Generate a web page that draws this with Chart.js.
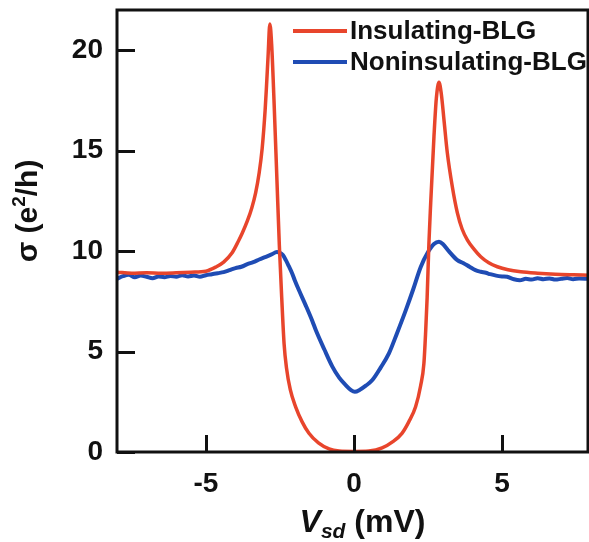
<!DOCTYPE html>
<html>
<head>
<meta charset="utf-8">
<script src="https://cdn.jsdelivr.net/npm/chart.js@4.4.0/dist/chart.umd.min.js"></script>
<style>
  html, body { margin: 0; padding: 0; background: #ffffff; }
  #wrap { width: 589px; height: 542px; }
</style>
</head>
<body>
<div id="wrap"><canvas id="c" width="589" height="542"></canvas></div>
<script>
// Source-drain bias (mV) and conductance (e^2/h) for the two bilayer samples
const vsdInsulating = [
  -8.0, -7.5, -7.0, -6.5, -6.0, -5.5, -5.0, -4.67, -4.4, -4.12, -3.9, -3.77, -3.6, -3.45,
  -3.32, -3.2, -3.1, -3.0, -2.95, -2.9, -2.84, -2.78, -2.7, -2.6, -2.52, -2.44,
  -2.36, -2.28, -2.15, -1.97, -1.75, -1.52, -1.2, -0.84, -0.5, 0.0, 0.5, 0.95, 1.3, 1.62,
  1.85, 2.08, 2.25, 2.36, 2.42, 2.47, 2.53, 2.59, 2.7, 2.78, 2.87, 2.95, 3.04, 3.15, 3.32,
  3.49, 3.65, 3.83, 4.05, 4.28, 4.55, 4.84, 5.2, 5.63, 6.2, 6.8, 7.4, 7.9
];
const sigmaInsulating = [
  8.95, 8.9, 8.92, 8.9, 8.92, 8.95, 9.0, 9.2, 9.45, 9.9, 10.5, 10.9, 11.5, 12.15,
  12.9, 13.9, 15.1, 17.0, 18.3, 19.7, 21.3, 20.3, 17.5, 13.5, 10.3, 7.7,
  5.4, 4.2, 3.1, 2.25, 1.5, 0.93, 0.45, 0.15, 0.05, 0.03, 0.05, 0.2, 0.5, 0.93,
  1.5, 2.25, 3.3, 4.4, 6.0, 7.7, 10.4, 12.4, 15.7, 17.6, 18.4, 17.8, 16.5, 14.9, 13.2,
  11.9, 11.1, 10.55, 10.1, 9.72, 9.42, 9.22, 9.07, 8.97, 8.9, 8.85, 8.82, 8.8
];

const vsdNoninsulating = [
  -8.0, -7.8, -7.6, -7.4, -7.2, -7.0, -6.8, -6.6, -6.4, -6.2, -6.0, -5.8, -5.6, -5.4,
  -5.2, -5.0, -4.8, -4.6, -4.4, -4.2, -4.0, -3.8, -3.6, -3.4, -3.2, -3.0, -2.8, -2.6,
  -2.5, -2.4, -2.3, -2.2, -2.09, -2.0, -1.86, -1.63, -1.4, -1.29, -1.0, -0.73, -0.5,
  -0.28, -0.1, 0.03, 0.2, 0.4, 0.62, 0.9, 1.18, 1.45, 1.75, 2.0, 2.25, 2.5, 2.7, 2.87,
  3.0, 3.2, 3.49, 3.7, 3.9, 4.1, 4.28, 4.45, 4.6, 4.8, 5.0, 5.17, 5.4, 5.6, 5.8, 6.0,
  6.2, 6.4, 6.6, 6.8, 7.0, 7.2, 7.4, 7.6, 7.9
];
const sigmaNoninsulating = [
  8.62, 8.75, 8.82, 8.7, 8.78, 8.72, 8.65, 8.74, 8.7, 8.76, 8.72, 8.8, 8.74, 8.78,
  8.72, 8.8, 8.85, 8.9, 8.95, 9.05, 9.15, 9.22, 9.35, 9.45, 9.58, 9.7, 9.82, 9.95,
  9.92, 9.8, 9.55, 9.25, 8.9, 8.55, 8.06, 7.3, 6.5, 6.07, 5.1, 4.25, 3.7,
  3.33, 3.08, 3.0, 3.1, 3.3, 3.58, 4.2, 4.91, 5.9, 7.06, 8.1, 9.2, 9.95, 10.35, 10.46,
  10.35, 10.0, 9.55, 9.4, 9.22, 9.05, 8.97, 8.92, 8.85, 8.78, 8.74, 8.72, 8.6, 8.55, 8.62, 8.58,
  8.65, 8.6, 8.64, 8.58, 8.62, 8.66, 8.6, 8.64, 8.62
];

const seriesLabels = ['Insulating-BLG', 'Noninsulating-BLG'];
const xTickValues = [-5, 0, 5];
const yTickValues = [0, 5, 10, 15, 20];

const RED = '#e8452c';
const BLUE = '#1f4cb4';
const INK = '#111111';
const FONT = '"Liberation Sans", Arial, Helvetica, sans-serif';

const toPoints = (xs, ys) => xs.map((x, i) => ({ x: x, y: ys[i] }));

// Box frame, inward tick marks, axis titles with sub/superscripts, and the legend
const decorations = {
  id: 'decorations',
  afterDatasetsDraw(chart) {
    const ctx = chart.ctx;
    const a = chart.chartArea;
    const xs = chart.scales.x, ys = chart.scales.y;
    ctx.save();
    ctx.strokeStyle = INK;
    ctx.lineWidth = 3;
    ctx.strokeRect(a.left, a.top, a.right - a.left, a.bottom - a.top);
    ctx.beginPath();
    xs.ticks.forEach(t => {
      const px = Math.round(xs.getPixelForValue(t.value)) + 0.5;
      ctx.moveTo(px, a.bottom);
      ctx.lineTo(px, a.bottom - 17);
    });
    ys.ticks.forEach(t => {
      const py = Math.round(ys.getPixelForValue(t.value)) + 0.5;
      ctx.moveTo(a.left, py);
      ctx.lineTo(a.left + 18, py);
    });
    ctx.stroke();

    // legend in the upper right of the plot
    ctx.textBaseline = 'alphabetic';
    ctx.textAlign = 'left';
    ctx.font = 'bold 26px ' + FONT;
    const rows = [{ y: 31, base: 39 }, { y: 62, base: 70 }];
    chart.data.datasets.forEach((ds, i) => {
      const r = rows[i];
      ctx.strokeStyle = ds.borderColor;
      ctx.lineWidth = 4;
      ctx.beginPath();
      ctx.moveTo(a.left + 176, r.y);
      ctx.lineTo(a.left + 230, r.y);
      ctx.stroke();
      ctx.fillStyle = INK;
      ctx.fillText(ds.label, a.left + 233, r.base);
    });

    // x-axis title: V_sd (mV)
    ctx.fillStyle = INK;
    const big = 'bold 32px ' + FONT;
    const bigIt = 'italic bold 32px ' + FONT;
    const subIt = 'italic bold 21px ' + FONT;
    ctx.font = bigIt; const wV = ctx.measureText('V').width;
    ctx.font = subIt; const wSd = ctx.measureText('sd').width;
    ctx.font = big; const wRest = ctx.measureText(' (mV)').width;
    const total = wV + wSd + wRest;
    let x0 = (a.left + a.right) / 2 + 10 - total / 2;
    const xb = 532;
    ctx.font = bigIt; ctx.fillText('V', x0, xb); x0 += wV;
    ctx.font = subIt; ctx.fillText('sd', x0, xb + 6); x0 += wSd;
    ctx.font = big; ctx.fillText(' (mV)', x0, xb);

    // y-axis title: sigma (e^2/h), rotated
    const yBig = 'bold 30px ' + FONT;
    ctx.translate(37, 211);
    ctx.rotate(-Math.PI / 2);
    const supF = 'bold 19px ' + FONT;
    ctx.font = yBig; const w1 = ctx.measureText('σ (e').width;
    ctx.font = supF; const w2 = ctx.measureText('2').width;
    ctx.font = yBig; const w3 = ctx.measureText('/h)').width;
    let s = -(w1 + w2 + w3) / 2;
    ctx.font = yBig; ctx.fillText('σ (e', s, 0); s += w1;
    ctx.font = supF; ctx.fillText('2', s, -12); s += w2;
    ctx.font = yBig; ctx.fillText('/h)', s, 0);
    ctx.restore();
  }
};

new Chart(document.getElementById('c'), {
  type: 'line',
  data: {
    datasets: [
      {
        label: seriesLabels[0],
        data: toPoints(vsdInsulating, sigmaInsulating),
        borderColor: RED,
        borderWidth: 3.5,
        pointRadius: 0,
        cubicInterpolationMode: 'monotone',
        fill: false
      },
      {
        label: seriesLabels[1],
        data: toPoints(vsdNoninsulating, sigmaNoninsulating),
        borderColor: BLUE,
        borderWidth: 4,
        pointRadius: 0,
        cubicInterpolationMode: 'monotone',
        fill: false
      }
    ]
  },
  options: {
    responsive: false,
    animation: false,
    events: [],
    layout: { padding: { top: 10, right: 1, left: 0, bottom: 0 } },
    plugins: { legend: { display: false }, tooltip: { enabled: false }, title: { display: false } },
    scales: {
      x: {
        type: 'linear',
        min: -8,
        max: 7.9,
        afterBuildTicks: s => { s.ticks = xTickValues.map(v => ({ value: v })); },
        afterFit: s => { s.height = 90; s.paddingLeft = 0; s.paddingRight = 0; },
        grid: { display: false, drawTicks: false },
        border: { display: false },
        ticks: { color: INK, padding: 15, font: { family: FONT, size: 28, weight: 'bold' }, maxRotation: 0 }
      },
      y: {
        type: 'linear',
        min: 0,
        max: 22,
        afterBuildTicks: s => { s.ticks = yTickValues.map(v => ({ value: v })); },
        afterFit: s => { s.width = 117; s.paddingTop = 0; s.paddingBottom = 0; },
        grid: { display: false, drawTicks: false },
        border: { display: false },
        ticks: { color: INK, padding: 14, font: { family: FONT, size: 28, weight: 'bold' } }
      }
    }
  },
  plugins: [decorations]
});
</script>
</body>
</html>
